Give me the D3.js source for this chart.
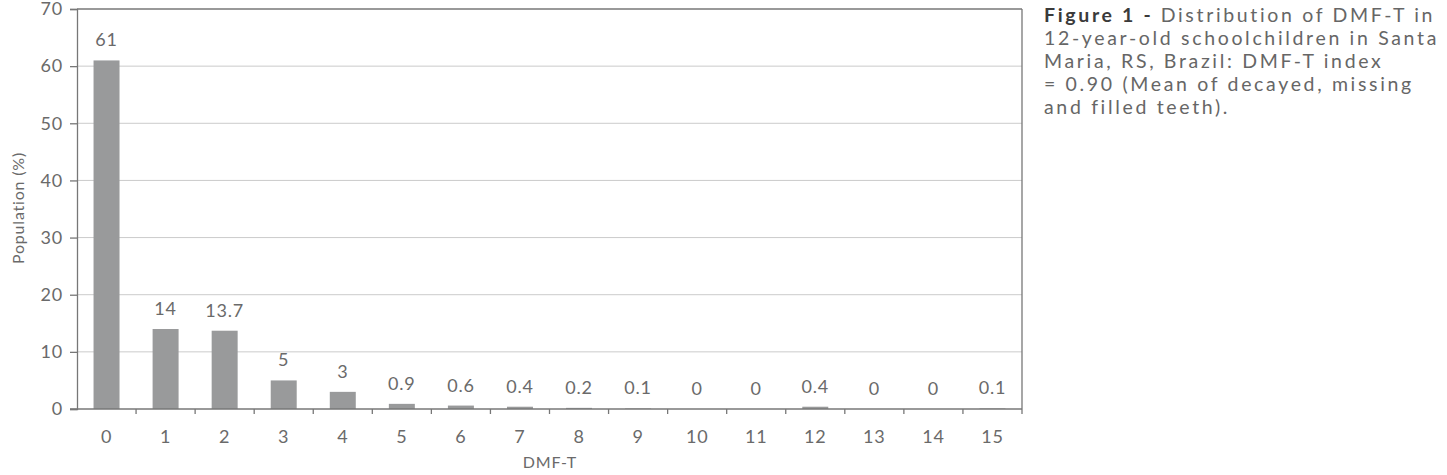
<html>
  <head>
    <meta charset="utf-8">
    <title>DMF-T distribution</title>
    <style>
      body { margin: 0; background: #fff; }
      text { font-family: Lato, "Open Sans", sans-serif; fill: #6a6a6a; letter-spacing: 0.8px; }
      .caption { font-family: Lato, sans-serif; fill: #666; font-size: 19.5px; letter-spacing: 0; }
      .caption .bold { font-weight: bold; fill: #3a3a3a; }
    </style>
    <script src="https://d3js.org/d3.v7.min.js"></script>
  </head>
  <body>
    <svg id="chart"></svg>
    <script>
      // data
      let categories = ['0','1','2','3','4','5','6','7','8','9','10','11','12','13','14','15'];
      let values = [61, 14, 13.7, 5, 3, 0.9, 0.6, 0.4, 0.2, 0.1, 0, 0, 0.4, 0, 0, 0.1];
      let valueLabels = ['61','14','13.7','5','3','0.9','0.6','0.4','0.2','0.1','0','0','0.4','0','0','0.1'];
      let yTicks = [0, 10, 20, 30, 40, 50, 60, 70];
      let captionLines = [
        ['Figure 1 - ', 'Distribution of DMF-T in'],
        ['', '12-year-old schoolchildren in Santa'],
        ['', 'Maria, RS, Brazil: DMF-T index'],
        ['', '= 0.90 (Mean of decayed, missing'],
        ['', 'and filled teeth).']
      ];

      let svg = d3.select('#chart').attr('width', 1447).attr('height', 475);

      let plotLeft = 77, plotRight = 1022, plotTop = 9, plotBottom = 409;

      let x = d3.scaleBand().domain(categories).range([plotLeft, plotRight]).paddingInner(0.56).paddingOuter(0.28);
      let xb = d3.scaleBand().domain(categories).range([plotLeft, plotRight]);
      let y = d3.scaleLinear().domain([0, 70]).range([plotBottom, plotTop]);

      // gridlines
      svg.append('g').selectAll('line').data(yTicks.slice(1, -1)).enter().append('line')
        .attr('x1', plotLeft).attr('x2', plotRight)
        .attr('y1', d => y(d)).attr('y2', d => y(d))
        .attr('stroke', '#cbcbcb').attr('stroke-width', 1);

      // frame top and right
      svg.append('line').attr('x1', plotLeft).attr('x2', plotRight).attr('y1', plotTop).attr('y2', plotTop)
        .attr('stroke', '#777').attr('stroke-width', 1.3);
      svg.append('line').attr('x1', plotRight).attr('x2', plotRight).attr('y1', plotTop).attr('y2', plotBottom)
        .attr('stroke', '#777').attr('stroke-width', 1.3);

      // bars
      svg.append('g').selectAll('rect').data(values).enter().append('rect')
        .attr('x', (d, i) => x(categories[i]))
        .attr('width', x.bandwidth())
        .attr('y', d => y(d))
        .attr('height', d => plotBottom - y(d))
        .attr('fill', '#999a9b');

      // value labels
      svg.append('g').selectAll('text').data(values).enter().append('text')
        .attr('x', (d, i) => x(categories[i]) + x.bandwidth() / 2)
        .attr('y', d => y(d) - 14)
        .attr('text-anchor', 'middle')
        .style('font-size', '18px')
        .text((d, i) => valueLabels[i]);

      // y axis
      let yAxis = svg.append('g')
        .attr('transform', `translate(${plotLeft},0)`)
        .call(d3.axisLeft(y).tickValues(yTicks).tickSize(7).tickPadding(7));
      yAxis.selectAll('path, line').attr('stroke', '#777').attr('stroke-width', 1.3);
      yAxis.selectAll('text').style('font-size', '18px').style('font-family', 'Lato, sans-serif').attr('fill', '#6a6a6a');

      // x axis: ticks at category boundaries
      let xAxisG = svg.append('g').attr('transform', `translate(0,${plotBottom})`);
      xAxisG.append('line').attr('x1', plotLeft - 7).attr('x2', plotRight).attr('y1', 0).attr('y2', 0)
        .attr('stroke', '#777').attr('stroke-width', 1.3);
      xAxisG.selectAll('line.tick').data(categories.slice(1)).enter().append('line')
        .attr('class', 'tick')
        .attr('x1', d => xb(d)).attr('x2', d => xb(d))
        .attr('y1', 0).attr('y2', 5)
        .attr('stroke', '#777').attr('stroke-width', 1.3);
      xAxisG.append('line').attr('x1', plotRight).attr('x2', plotRight).attr('y1', 0).attr('y2', 5)
        .attr('stroke', '#777').attr('stroke-width', 1.3);
      xAxisG.selectAll('text').data(categories).enter().append('text')
        .attr('x', d => xb(d) + xb.bandwidth() / 2)
        .attr('y', 34)
        .attr('text-anchor', 'middle')
        .style('font-size', '18px')
        .text(d => d);

      // axis titles
      svg.append('text')
        .attr('x', 550)
        .attr('y', 468)
        .attr('text-anchor', 'middle')
        .style('font-size', '16px')
        .text('DMF-T');
      svg.append('text')
        .attr('transform', `translate(24,208) rotate(-90)`)
        .attr('text-anchor', 'middle')
        .style('font-size', '16px')
        .text('Population (%)');

      // caption: letter spacing fitted so line 2 spans ~395px
      let capX = 1044, capWidth = 395;
      let probe = svg.append('text').attr('class', 'caption').text(captionLines[1][1]);
      let natural = probe.node().getComputedTextLength();
      let spacing = Math.max(0, (capWidth - natural) / captionLines[1][1].length);
      probe.remove();
      captionLines.forEach((ln, i) => {
        let t = svg.append('text').attr('class', 'caption')
          .attr('x', capX).attr('y', 22 + i * 23)
          .style('letter-spacing', spacing + 'px');
        if (ln[0]) t.append('tspan').attr('class', 'bold').text(ln[0]);
        t.append('tspan').text(ln[1]);
      });
    </script>
  </body>
</html>
